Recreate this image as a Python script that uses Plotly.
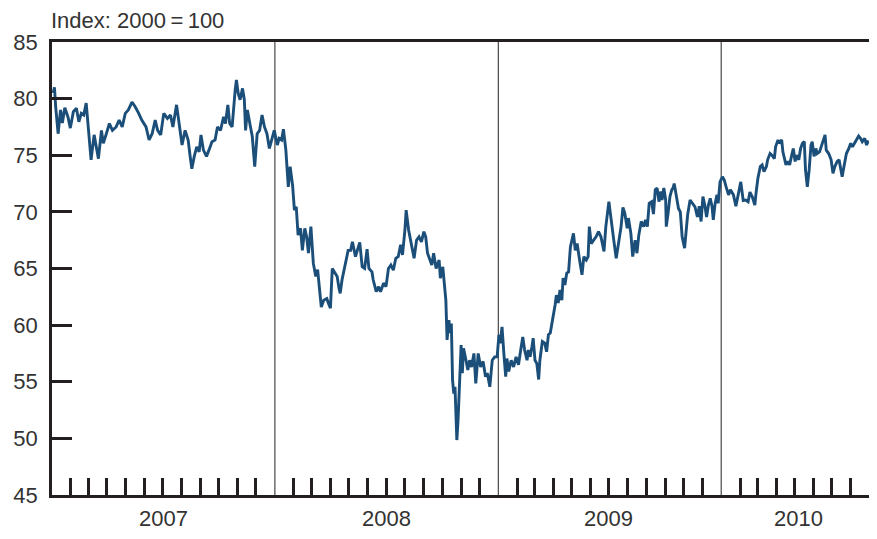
import plotly.graph_objects as go

# ---------------- data ----------------
dates_2007 = ["2007-01-03","2007-01-05","2007-01-07","2007-01-11","2007-01-15","2007-01-18","2007-01-22","2007-01-27","2007-01-31",
"2007-02-05","2007-02-10","2007-02-14","2007-02-18","2007-02-22","2007-02-26","2007-03-02","2007-03-06","2007-03-11","2007-03-14",
"2007-03-18","2007-03-23","2007-03-26","2007-03-31","2007-04-05","2007-04-10","2007-04-16","2007-04-21","2007-04-26","2007-05-01",
"2007-05-06","2007-05-12","2007-05-17","2007-05-23","2007-05-28","2007-06-04","2007-06-09","2007-06-14","2007-06-19","2007-06-23",
"2007-06-28","2007-07-03","2007-07-09","2007-07-14","2007-07-18","2007-07-24","2007-07-29","2007-08-02","2007-08-07","2007-08-12",
"2007-08-15","2007-08-18","2007-08-22","2007-08-26","2007-08-30","2007-09-02","2007-09-06","2007-09-11","2007-09-15","2007-09-20",
"2007-09-25","2007-09-29","2007-10-04","2007-10-09","2007-10-12","2007-10-16","2007-10-19","2007-10-23","2007-10-28","2007-10-30",
"2007-11-02","2007-11-05","2007-11-09","2007-11-12","2007-11-14","2007-11-17","2007-11-21","2007-11-25","2007-11-29","2007-12-03",
"2007-12-07","2007-12-11","2007-12-15","2007-12-19","2007-12-23","2007-12-27","2007-12-31"]
values_2007 = [80.5,81.0,79.3,76.9,79.0,77.85,79.2,78.4,77.4,
78.85,79.15,77.95,78.7,78.55,79.6,77.1,74.6,76.8,75.75,
74.7,77.2,76.05,76.9,77.8,77.2,77.5,78.1,77.5,78.7,
79.0,79.7,79.3,78.7,78.1,77.5,76.35,76.9,78.1,77.2,
76.8,78.7,78.25,78.55,77.5,79.45,77.4,75.9,77.2,76.35,
75.0,73.8,74.9,75.75,75.3,76.8,75.45,74.9,75.45,76.2,
76.35,77.5,77.2,78.4,77.8,79.45,77.8,77.5,80.75,81.65,
80.45,79.9,80.9,79.9,77.2,79.0,77.8,76.65,74.0,76.9,
77.2,78.55,77.5,76.9,75.6,76.35,77.2]

dates_2008 = ["2008-01-05","2008-01-08","2008-01-12","2008-01-15","2008-01-19","2008-01-23","2008-01-26","2008-01-30","2008-02-02",
"2008-02-05","2008-02-08","2008-02-12","2008-02-15","2008-02-19","2008-02-22","2008-02-25","2008-02-29","2008-03-04","2008-03-08",
"2008-03-11","2008-03-14","2008-03-17","2008-03-21","2008-03-26","2008-03-29","2008-04-01","2008-04-04","2008-04-08","2008-04-12",
"2008-04-15","2008-04-17","2008-04-20","2008-04-24","2008-04-27","2008-04-30","2008-05-04","2008-05-07","2008-05-12","2008-05-16",
"2008-05-19","2008-05-23","2008-05-27","2008-05-31","2008-06-03","2008-06-08","2008-06-10","2008-06-15","2008-06-19","2008-06-22",
"2008-06-27","2008-07-01","2008-07-05","2008-07-09","2008-07-13","2008-07-17","2008-07-21","2008-07-25","2008-07-28","2008-08-01",
"2008-08-03","2008-08-07","2008-08-12","2008-08-16","2008-08-20","2008-08-24","2008-08-28","2008-09-01","2008-09-04","2008-09-07",
"2008-09-10","2008-09-14","2008-09-17","2008-09-21","2008-09-26","2008-09-28","2008-10-02","2008-10-05","2008-10-07","2008-10-09",
"2008-10-12","2008-10-14","2008-10-16","2008-10-18","2008-10-20","2008-10-22","2008-10-25","2008-10-27","2008-10-30","2008-11-01",
"2008-11-03","2008-11-05","2008-11-09","2008-11-12","2008-11-15","2008-11-18","2008-11-22","2008-11-25","2008-11-29","2008-12-03",
"2008-12-07","2008-12-11","2008-12-14","2008-12-18","2008-12-22","2008-12-26","2008-12-30"]
values_2008 = [75.9,76.5,76.35,77.3,75.45,72.2,74.0,72.35,70.15,
70.45,67.95,68.55,66.6,68.55,67.8,66.35,68.7,65.45,64.3,
64.9,63.25,61.6,62.2,62.35,61.9,61.5,65.0,64.6,64.3,
63.25,62.8,64.0,65.15,65.75,66.6,66.6,67.35,66.05,66.8,
67.3,65.15,65.0,66.7,65.0,64.7,64.0,62.95,63.4,62.95,
63.7,63.4,65.0,65.3,64.85,65.9,66.05,67.1,66.2,68.4,
70.15,68.4,66.9,65.9,67.5,67.8,67.35,68.25,67.8,66.35,
65.9,65.3,66.35,65.0,65.75,64.15,65.15,63.7,62.2,58.7,
60.45,59.3,60.15,55.15,53.95,54.55,49.85,51.6,56.3,58.25,
55.75,57.95,56.9,56.05,56.9,56.3,57.5,54.85,57.5,56.3,
56.8,55.45,55.75,54.55,56.9,57.2,57.2]

dates_2009 = ["2009-01-02","2009-01-04","2009-01-07","2009-01-10","2009-01-13","2009-01-15","2009-01-18","2009-01-22","2009-01-26",
"2009-01-30","2009-02-03","2009-02-07","2009-02-10","2009-02-13","2009-02-17","2009-02-19","2009-02-22","2009-02-25","2009-02-27",
"2009-03-02","2009-03-05","2009-03-08","2009-03-10","2009-03-14","2009-03-18","2009-03-21","2009-03-24","2009-03-27","2009-03-29",
"2009-04-01","2009-04-04","2009-04-06","2009-04-09","2009-04-12","2009-04-15","2009-04-17","2009-04-20","2009-04-23","2009-04-26",
"2009-04-29","2009-05-02","2009-05-04","2009-05-07","2009-05-10","2009-05-14","2009-05-18","2009-05-21","2009-05-25","2009-05-28",
"2009-05-30","2009-06-02","2009-06-06","2009-06-10","2009-06-14","2009-06-18","2009-06-23","2009-06-26","2009-07-01","2009-07-05",
"2009-07-09","2009-07-13","2009-07-16","2009-07-21","2009-07-24","2009-07-27","2009-07-31","2009-08-02","2009-08-06","2009-08-09",
"2009-08-13","2009-08-16","2009-08-19","2009-08-23","2009-08-27","2009-08-30","2009-09-02","2009-09-05","2009-09-09","2009-09-12",
"2009-09-15","2009-09-18","2009-09-21","2009-09-24","2009-09-26","2009-09-29","2009-10-02","2009-10-03","2009-10-06","2009-10-09",
"2009-10-12","2009-10-14","2009-10-16","2009-10-20","2009-10-23","2009-10-26","2009-10-29","2009-11-02","2009-11-05","2009-11-07",
"2009-11-11","2009-11-16","2009-11-19","2009-11-23","2009-11-26","2009-11-29","2009-12-02","2009-12-05","2009-12-08","2009-12-11",
"2009-12-14","2009-12-17","2009-12-19","2009-12-22","2009-12-25","2009-12-27","2009-12-30"]
values_2009 = [59.15,58.4,59.85,57.5,55.45,57.05,55.9,56.9,56.3,
57.2,56.5,57.95,58.95,57.8,56.9,57.8,57.2,58.1,58.85,
56.9,56.6,55.2,56.9,58.55,58.4,57.65,59.15,59.3,59.85,
60.75,61.8,62.65,61.95,63.1,62.2,64.15,63.55,64.6,64.7,
66.9,67.8,68.1,66.6,67.2,65.75,64.45,66.05,65.75,66.05,
68.7,67.2,67.5,67.8,68.25,67.8,66.5,68.7,70.9,69.0,
67.5,65.9,67.1,68.7,70.4,69.9,68.55,69.45,68.1,66.05,
67.5,66.35,67.95,69.15,68.7,69.3,68.7,70.75,70.9,69.8,
71.95,72.1,70.9,71.8,71.05,72.1,71.05,68.7,69.9,71.35,
71.95,72.1,72.5,71.35,70.3,70.0,67.8,66.8,68.7,69.75,
71.05,70.6,70.45,69.55,70.5,69.15,71.35,70.6,69.55,70.6,
71.2,70.45,69.3,70.75,71.5,70.75,72.65]

dates_2010 = ["2010-01-03","2010-01-06","2010-01-09","2010-01-13","2010-01-16","2010-01-21","2010-01-25","2010-01-29","2010-02-02",
"2010-02-06","2010-02-10","2010-02-14","2010-02-17","2010-02-21","2010-02-25","2010-02-27","2010-03-02","2010-03-06","2010-03-09",
"2010-03-12","2010-03-16","2010-03-18","2010-03-22","2010-03-25","2010-03-29","2010-03-31","2010-04-04","2010-04-06","2010-04-10",
"2010-04-12","2010-04-14","2010-04-17","2010-04-20","2010-04-23","2010-04-26","2010-04-29","2010-05-02","2010-05-04","2010-05-08",
"2010-05-11","2010-05-14","2010-05-17","2010-05-19","2010-05-22","2010-05-25","2010-05-28","2010-05-30","2010-06-02","2010-06-05",
"2010-06-07","2010-06-11","2010-06-14","2010-06-17","2010-06-20","2010-06-22","2010-06-26","2010-06-30","2010-07-03","2010-07-06",
"2010-07-10","2010-07-13","2010-07-15","2010-07-18","2010-07-22","2010-07-25","2010-07-29","2010-08-01","2010-08-04","2010-08-07",
"2010-08-11","2010-08-14","2010-08-17","2010-08-20","2010-08-24","2010-08-27","2010-08-30"]
values_2010 = [73.1,72.8,72.2,71.5,71.95,71.5,70.5,71.6,72.65,
71.0,71.05,70.9,71.75,71.3,70.6,71.65,72.95,74.0,74.15,
73.55,74.0,74.6,75.15,75.0,74.7,75.75,76.35,76.05,76.35,
75.3,74.9,74.15,74.45,74.15,74.9,75.6,74.45,75.0,74.6,
75.6,76.05,76.2,73.7,72.2,73.7,75.9,76.2,74.9,75.6,
75.15,75.3,75.75,76.35,76.8,75.45,75.15,74.6,73.4,74.0,
74.45,74.6,74.0,73.1,74.3,75.15,75.6,76.05,75.75,76.05,
76.35,76.7,76.5,76.2,76.5,75.9,76.3]

y_tick_values = [45, 50, 55, 60, 65, 70, 75, 80, 85]
year_labels = ["2007", "2008", "2009", "2010"]
year_label_dates = ["2007-07-02", "2008-07-01", "2009-07-01", "2010-05-07"]
year_start_dates = ["2008-01-01", "2009-01-01", "2010-01-01"]
month_tick_dates = [f"{y}-{m:02d}-01" for y in (2007, 2008, 2009, 2010)
                    for m in range(2, 13) if not (y == 2010 and m > 8)]
x_range = ["2007-01-01", "2010-08-31"]
y_range = [45, 85]
unit_label = "Index: 2000\u2009=\u2009100"

dates = dates_2007 + dates_2008 + dates_2009 + dates_2010
values = values_2007 + values_2008 + values_2009 + values_2010

# ---------------- figure ----------------
AXIS = "#231f20"
TEXT = "#333333"
FONT = "Liberation Sans, Arial, sans-serif"

fig = go.Figure()
fig.add_trace(go.Scatter(x=dates, y=values, mode="lines",
                         line=dict(color="#1b4f79", width=2.9),
                         hoverinfo="skip", showlegend=False))

for d in year_start_dates:
    fig.add_shape(type="line", xref="x", yref="paper", x0=d, x1=d, y0=0, y1=1,
                  line=dict(color="#555555", width=1.3), layer="below")

for lab, d in zip(year_labels, year_label_dates):
    fig.add_annotation(x=d, xref="x", y=0, yref="paper", text=lab, showarrow=False,
                       xanchor="center", yanchor="top", yshift=-9,
                       font=dict(family=FONT, size=22, color=TEXT))

fig.add_annotation(x=0, xref="paper", y=1, yref="paper", text=unit_label,
                   showarrow=False, xanchor="left", yanchor="bottom", yshift=7,
                   xshift=-3, font=dict(family=FONT, size=22, color=TEXT))

# the page places the figure 8 px from the window's top-left corner,
# so the figure is sized to fill the rest of the 877x539 window
fig.update_layout(
    width=861, height=523,
    margin=dict(l=44, r=0, t=34, b=36, autoexpand=False),
    paper_bgcolor="white", plot_bgcolor="white",
    font=dict(family=FONT, size=22, color=TEXT),
    xaxis=dict(type="date", range=x_range, showgrid=False, zeroline=False,
               automargin=False,
               showline=True, linecolor=AXIS, linewidth=2.5, mirror=True,
               ticks="inside", tickvals=month_tick_dates, ticklen=17,
               tickwidth=2.5, tickcolor=AXIS, showticklabels=False),
    yaxis=dict(range=y_range, showgrid=False, zeroline=False, automargin=False,
               showline=True, linecolor=AXIS, linewidth=2.5,
               ticks="inside", tickvals=y_tick_values, ticklen=20,
               tickwidth=2.5, tickcolor=AXIS, ticklabelstandoff=7,
               tickfont=dict(family=FONT, size=22, color=TEXT)),
)

fig.write_html("out.html")
